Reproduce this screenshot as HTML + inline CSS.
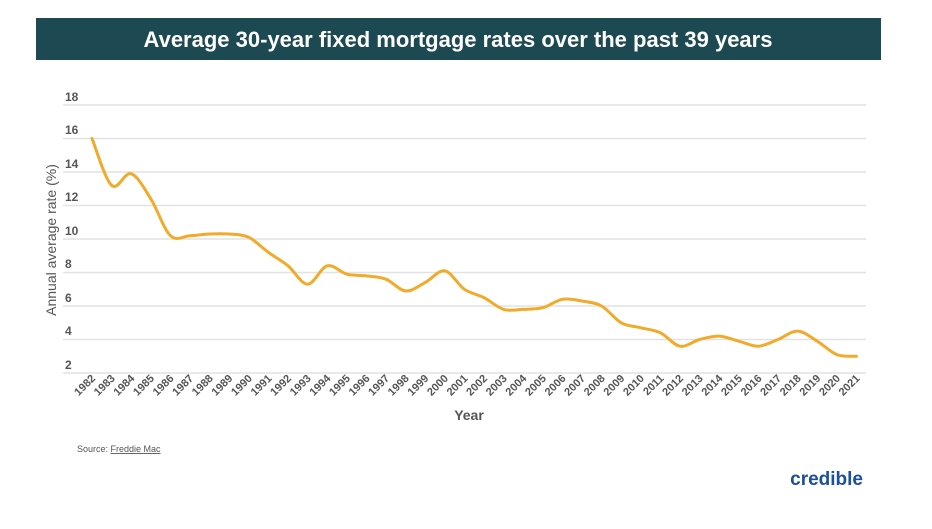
<!DOCTYPE html>
<html><head><meta charset="utf-8"><style>
body{margin:0;background:#fff;width:932px;height:524px;overflow:hidden;font-family:"Liberation Sans",sans-serif}
</style></head><body>
<svg width="932" height="524" xmlns="http://www.w3.org/2000/svg" font-family="Liberation Sans, sans-serif">
<rect x="36" y="18" width="845" height="42" fill="#1d4953"/>
<text x="458" y="47" text-anchor="middle" fill="#fff" font-size="22" font-weight="bold">Average 30-year fixed mortgage rates over the past 39 years</text>
<g stroke="#e2e2e2" stroke-width="1.5">
<line x1="63" x2="866" y1="105" y2="105"/><line x1="63" x2="866" y1="138.5" y2="138.5"/>
<line x1="63" x2="866" y1="172" y2="172"/><line x1="63" x2="866" y1="205.5" y2="205.5"/>
<line x1="63" x2="866" y1="239" y2="239"/><line x1="63" x2="866" y1="272.5" y2="272.5"/>
<line x1="63" x2="866" y1="306" y2="306"/><line x1="63" x2="866" y1="339.5" y2="339.5"/>
<line x1="63" x2="866" y1="373" y2="373"/>
</g>
<g fill="#555" font-size="12" font-weight="bold">
<text x="65" y="101">18</text><text x="65" y="134">16</text><text x="65" y="168">14</text>
<text x="65" y="201">12</text><text x="65" y="235">10</text><text x="65" y="268">8</text>
<text x="65" y="302">6</text><text x="65" y="335">4</text><text x="65" y="369">2</text>
</g>
<text transform="translate(56,240) rotate(-90)" text-anchor="middle" fill="#555" font-size="14">Annual average rate (%)</text>
<path id="ln" fill="none" stroke="#f2aa2a" stroke-width="3" stroke-linejoin="round" stroke-linecap="round"/>
<g fill="#555" font-size="11" font-weight="bold" text-anchor="end">
<text transform="translate(96,379) rotate(-45)">1982</text>
<text transform="translate(115.6,379) rotate(-45)">1983</text>
<text transform="translate(135.2,379) rotate(-45)">1984</text>
<text transform="translate(154.8,379) rotate(-45)">1985</text>
<text transform="translate(174.4,379) rotate(-45)">1986</text>
<text transform="translate(194,379) rotate(-45)">1987</text>
<text transform="translate(213.6,379) rotate(-45)">1988</text>
<text transform="translate(233.2,379) rotate(-45)">1989</text>
<text transform="translate(252.8,379) rotate(-45)">1990</text>
<text transform="translate(272.4,379) rotate(-45)">1991</text>
<text transform="translate(292,379) rotate(-45)">1992</text>
<text transform="translate(311.6,379) rotate(-45)">1993</text>
<text transform="translate(331.2,379) rotate(-45)">1994</text>
<text transform="translate(350.8,379) rotate(-45)">1995</text>
<text transform="translate(370.4,379) rotate(-45)">1996</text>
<text transform="translate(390,379) rotate(-45)">1997</text>
<text transform="translate(409.6,379) rotate(-45)">1998</text>
<text transform="translate(429.2,379) rotate(-45)">1999</text>
<text transform="translate(448.8,379) rotate(-45)">2000</text>
<text transform="translate(468.4,379) rotate(-45)">2001</text>
<text transform="translate(488,379) rotate(-45)">2002</text>
<text transform="translate(507.6,379) rotate(-45)">2003</text>
<text transform="translate(527.2,379) rotate(-45)">2004</text>
<text transform="translate(546.8,379) rotate(-45)">2005</text>
<text transform="translate(566.4,379) rotate(-45)">2006</text>
<text transform="translate(586,379) rotate(-45)">2007</text>
<text transform="translate(605.6,379) rotate(-45)">2008</text>
<text transform="translate(625.2,379) rotate(-45)">2009</text>
<text transform="translate(644.8,379) rotate(-45)">2010</text>
<text transform="translate(664.4,379) rotate(-45)">2011</text>
<text transform="translate(684,379) rotate(-45)">2012</text>
<text transform="translate(703.6,379) rotate(-45)">2013</text>
<text transform="translate(723.2,379) rotate(-45)">2014</text>
<text transform="translate(742.8,379) rotate(-45)">2015</text>
<text transform="translate(762.4,379) rotate(-45)">2016</text>
<text transform="translate(782,379) rotate(-45)">2017</text>
<text transform="translate(801.6,379) rotate(-45)">2018</text>
<text transform="translate(821.2,379) rotate(-45)">2019</text>
<text transform="translate(840.8,379) rotate(-45)">2020</text>
<text transform="translate(860.4,379) rotate(-45)">2021</text>
</g>
<text x="469" y="420" text-anchor="middle" fill="#555" font-size="14" font-weight="bold">Year</text>
<text x="77" y="452" fill="#555" font-size="9">Source: <tspan text-decoration="underline">Freddie Mac</tspan></text>
<text x="863" y="485" text-anchor="end" fill="#1c4f9c" font-size="19" font-weight="bold">credible</text>
</svg>
<script>
var v=[16.0,13.2,13.9,12.4,10.2,10.2,10.3,10.3,10.1,9.2,8.4,7.3,8.4,7.9,7.8,7.6,6.9,7.4,8.1,7.0,6.5,5.8,5.8,5.9,6.4,6.3,6.0,5.0,4.7,4.4,3.6,4.0,4.2,3.9,3.6,4.0,4.5,3.9,3.1,3.0];
var p=v.map(function(a,i){return [92+19.6*i,105+(18-a)*16.75];});
var d="M"+p[0][0]+","+p[0][1];
for(var i=0;i<p.length-1;i++){
var p0=p[Math.max(i-1,0)],p1=p[i],p2=p[i+1],p3=p[Math.min(i+2,p.length-1)];
var c1=[p1[0]+(p2[0]-p0[0])/6,p1[1]+(p2[1]-p0[1])/6],c2=[p2[0]-(p3[0]-p1[0])/6,p2[1]-(p3[1]-p1[1])/6];
d+=" C"+c1[0].toFixed(1)+","+c1[1].toFixed(1)+" "+c2[0].toFixed(1)+","+c2[1].toFixed(1)+" "+p2[0].toFixed(1)+","+p2[1].toFixed(1);}
document.getElementById("ln").setAttribute("d",d);
</script>
</body></html>
